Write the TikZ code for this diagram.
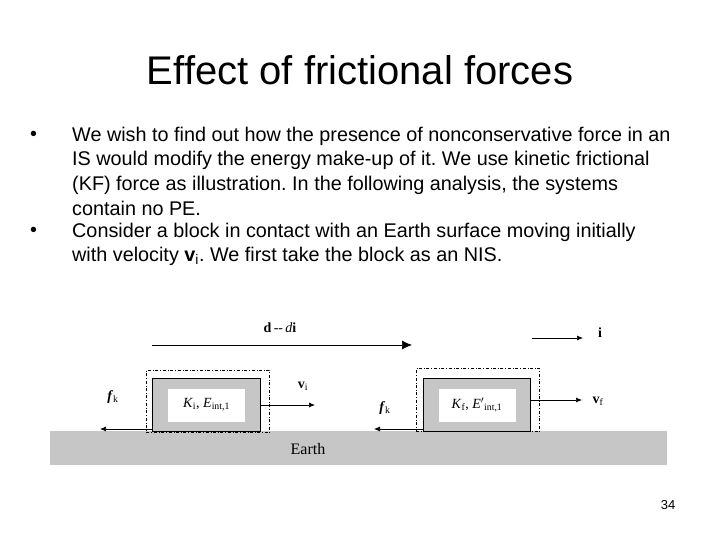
\documentclass[tikz,border=0pt]{standalone}
\usepackage{fontspec}
\setmainfont{Liberation Sans}
\newfontfamily\tms{Liberation Serif}
\usetikzlibrary{arrows.meta}
\frenchspacing
\begin{document}
\begin{tikzpicture}[x=1pt,y=-1pt,
  body/.style={font=\fontsize{19.8}{22}\selectfont,anchor=west,inner sep=0},
  blk/.style={draw,line width=1pt,fill=gray!45},
  win/.style={fill=white,draw=none},
  sysb/.style={draw,dash dot,line width=0.6pt},
  arr/.style={-{Latex[length=6pt,width=5pt]},line width=0.7pt},
  lab/.style={font=\tms\fontsize{14}{16}\selectfont,inner sep=0}]
\useasboundingbox (0,0) rectangle (720,540);
\node[font=\fontsize{40}{44}\selectfont] (title) at (360,70) {Effect of frictional forces};
\node[body] (b1) at (30,136) {•};
\node[body] (l1) at (72,136) {We wish to find out how the presence of nonconservative force in an};
\node[body] (l2) at (72,160) {IS would modify the energy make-up of it. We use kinetic frictional};
\node[body] (l3) at (72,185) {(KF) force as illustration. In the following analysis, the systems};
\node[body] (l4) at (72,208) {contain no PE.};
\node[body] (b2) at (30,232) {•};
\node[body] (l5) at (72,232) {Consider a block in contact with an Earth surface moving initially};
\node[body] (l6) at (72,256) {with velocity \textbf{v}\textsubscript{i}. We first take the block as an NIS.};
% earth
\node[fill=gray!45,minimum width=617pt,minimum height=34pt,inner sep=0,anchor=north west] (earth) at (50,431) {};
\node[lab,font=\tms\fontsize{16}{18}\selectfont] (et) at (308,449) {Earth};
% block 1
\node[sysb,minimum width=123pt,minimum height=62pt,anchor=north west] (s1) at (146,370) {};
\node[blk,minimum width=108pt,minimum height=53pt,anchor=north west,inner sep=0] (k1) at (152,378) {};
\node[win,minimum width=77pt,minimum height=33pt,anchor=center,inner sep=0,lab] (w1) at (k1.center) {\textit{K}\textsubscript{i}, \textit{E}\textsubscript{int,1}};
% block 2
\node[sysb,minimum width=123pt,minimum height=63pt,anchor=north west] (s2) at (416,368) {};
\node[blk,minimum width=107pt,minimum height=53pt,anchor=north west,inner sep=0] (k2) at (423,378) {};
\node[win,minimum width=77pt,minimum height=33pt,anchor=center,inner sep=0,lab] (w2) at (k2.center) {\textit{K}\textsubscript{f}, \textit{E}$'$\textsubscript{int,1}};
% arrows
\coordinate (d0) at (152,345); \coordinate (d1) at (412,345);
\draw[arr,-{Latex[length=10pt,width=9pt]}] (d0) -- (d1);
\node[lab] (dl) at (280,328) {\textbf{d}\,--\,\textit{d}\textbf{i}};
\coordinate (i0) at (532,338); \coordinate (i1) at (583,338);
\draw[arr] (i0) -- (i1);
\node[lab] (il) at (600,333) {\textbf{i}};
\coordinate (vi1) at (315,405);
\draw[arr] (k1.east |- vi1) -- (vi1);
\node[lab] (vil) at (303,386) {\textbf{v}\textsubscript{i}};
\coordinate (vf1) at (582,400);
\draw[arr] (k2.east |- vf1) -- (vf1);
\node[lab] (vfl) at (598,401) {\textbf{v}\textsubscript{f}};
\coordinate (f1s) at (152,429); \coordinate (f1) at (100,429);
\draw[arr] (f1s) -- (f1);
\node[lab] (f1l) at (113,397) {\textbf{\textit{f}}\textsubscript{k}};
\coordinate (f2s) at (423,429); \coordinate (f2) at (374,429);
\draw[arr] (f2s) -- (f2);
\node[lab] (f2l) at (385,408) {\textbf{\textit{f}}\textsubscript{k}};
\node[font=\fontsize{13}{15}\selectfont] (pg) at (668,505) {34};
\end{tikzpicture}
\end{document}
